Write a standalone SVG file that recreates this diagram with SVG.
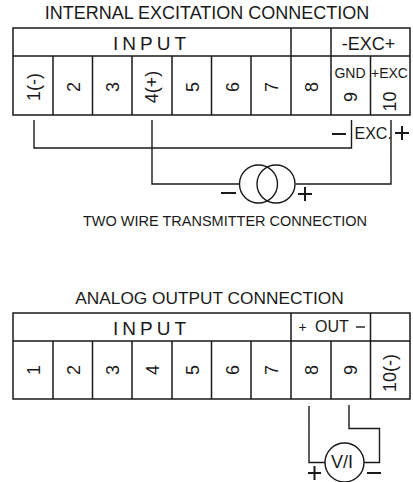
<svg xmlns="http://www.w3.org/2000/svg" width="413" height="482" viewBox="0 0 413 482">
<style>
text{font-family:"Liberation Sans",Arial,sans-serif;fill:#1a1a1a}
.t{font-size:18px;text-anchor:middle}
.s{font-size:14px;text-anchor:middle}
.i{font-size:19px;text-anchor:middle;letter-spacing:4px}
.n{font-size:18px;text-anchor:middle}
.g{fill:none;stroke:#1a1a1a;stroke-width:1.5}
.b{fill:none;stroke:#1a1a1a;stroke-width:1.4}
.p{stroke:#1a1a1a;stroke-width:2;fill:none}
</style>
<rect width="413" height="482" fill="#fff"/>
<g id="title-top"><text class="t" x="207" y="19">INTERNAL EXCITATION CONNECTION</text></g>
<g id="table-top">
<path class="g" d="M13 28H410V115H13ZM13 56H410M291 28V56M331 28V56M53 56V115M92.500 56V115M132 56V115M172 56V115M211.500 56V115M251 56V115M291 56V115M331 56V115M370.500 56V115"/>
<text class="i" x="151.500" y="50">INPUT</text>
<text class="n" x="368.500" y="50">-EXC+</text>
<text class="n" transform="translate(39.500 87) rotate(-90)">1(-)</text>
<text class="n" transform="translate(80 87) rotate(-90)">2</text>
<text class="n" transform="translate(118.500 87) rotate(-90)">3</text>
<text class="n" transform="translate(157.500 87) rotate(-90)">4(+)</text>
<text class="n" transform="translate(199 87) rotate(-90)">5</text>
<text class="n" transform="translate(239 87) rotate(-90)">6</text>
<text class="n" transform="translate(277.500 87) rotate(-90)">7</text>
<text class="n" transform="translate(317.500 87) rotate(-90)">8</text>
<text class="n" transform="translate(357 97) rotate(-90)">9</text>
<text class="n" transform="translate(396 101.500) rotate(-90)">10</text>
<text class="s" x="350" y="77.500">GND</text>
<text class="s" x="389.500" y="77.500">+EXC</text>
</g>
<g id="connectors">
<path class="b" d="M34 120V148H351.500V120M152 120V184H240M295.500 184H391V120"/>
<path class="b" d="M309 406V462.500H325M349 405V428.500H379.500V462.500H364"/>
</g>
<g id="transmitter">
<circle class="b" cx="258.500" cy="184" r="19"/>
<circle class="b" cx="276" cy="184" r="19"/>
<path class="p" d="M221 193H236M298 194H312M305 187V201"/>
</g>
<g id="exc-label">
<text x="354.500" y="139" style="font-size:16px">EXC.</text>
<path class="p" d="M332 134H346M395 133H409M402 126V140"/>
</g>
<g id="caption"><text class="s" x="225" y="226" style="font-size:14.500px">TWO WIRE TRANSMITTER CONNECTION</text></g>
<g id="title-bottom"><text class="t" x="209.500" y="304" style="font-size:17.300px">ANALOG OUTPUT CONNECTION</text></g>
<g id="table-bottom">
<path class="g" d="M13 313H410V399H13ZM13 341H410M291 313V341M370.500 313V341M53 341V399M92.500 341V399M132 341V399M172 341V399M211.500 341V399M251 341V399M291 341V399M331 341V399M370.500 341V399"/>
<text class="i" x="151.500" y="335">INPUT</text>
<text class="s" x="302.500" y="332">+</text>
<text class="s" x="332" y="331.500" style="font-size:16px">OUT</text>
<path class="b" d="M356 327H365"/>
<text class="n" transform="translate(39.500 370) rotate(-90)">1</text>
<text class="n" transform="translate(80 370) rotate(-90)">2</text>
<text class="n" transform="translate(118.500 370) rotate(-90)">3</text>
<text class="n" transform="translate(159 370) rotate(-90)">4</text>
<text class="n" transform="translate(199 370) rotate(-90)">5</text>
<text class="n" transform="translate(239 370) rotate(-90)">6</text>
<text class="n" transform="translate(277.500 370) rotate(-90)">7</text>
<text class="n" transform="translate(317.500 370) rotate(-90)">8</text>
<text class="n" transform="translate(357 370) rotate(-90)">9</text>
<text class="n" transform="translate(396 373) rotate(-90)">10(-)</text>
</g>
<g id="meter">
<circle class="b" cx="344.500" cy="462.500" r="19.500"/>
<text x="342" y="468" class="n">V/I</text>
<path class="p" d="M308 473H321M314.500 466V480M367 473H381"/>
</g>
</svg>
